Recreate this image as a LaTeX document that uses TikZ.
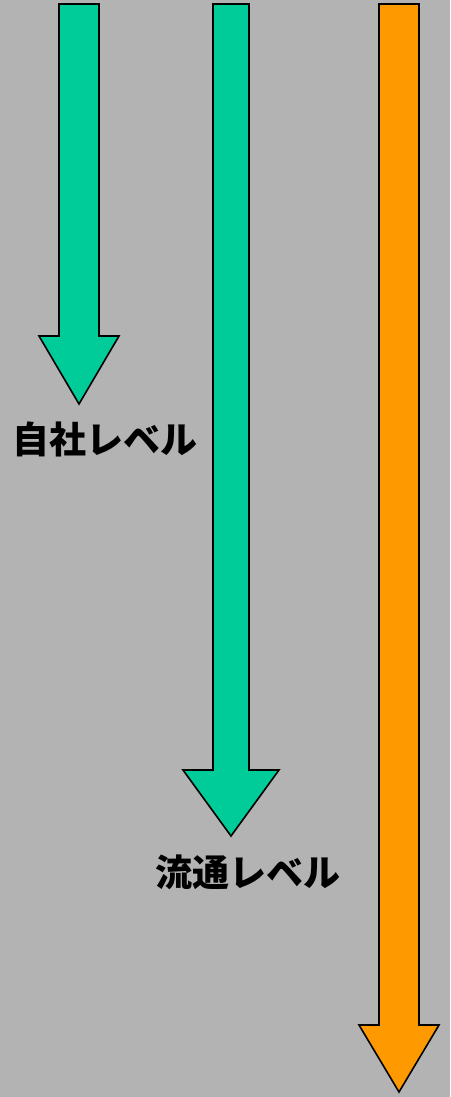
\documentclass[tikz,border=0pt]{standalone}
\usepackage{fontspec}
\newfontfamily\cjk{Noto Sans CJK JP}
\definecolor{bg}{HTML}{B3B3B3}
\definecolor{grn}{HTML}{00CC99}
\definecolor{org}{HTML}{FF9900}
\tikzset{arrowshape/.style={draw=black,line width=1.6pt,line join=miter},
  lbl/.style={font=\cjk\bfseries\fontsize{37}{42}\selectfont,inner sep=0pt}}
\begin{document}
\begin{tikzpicture}[x=1pt,y=-1pt]
\fill[bg] (0,0) rectangle (450,1097);
\useasboundingbox (0,0) rectangle (450,1097);
% arrow 1
\draw[arrowshape,fill=grn] (59,4) -- (99,4) -- (99,336) -- (119,336) -- (79,404) -- (39,336) -- (59,336) -- cycle;
% arrow 2
\draw[arrowshape,fill=grn] (213,4) -- (249,4) -- (249,770) -- (279,770) -- (231,836) -- (183,770) -- (213,770) -- cycle;
% arrow 3
\draw[arrowshape,fill=org] (379,4) -- (419,4) -- (419,1025) -- (439,1025) -- (399,1092) -- (359,1025) -- (379,1025) -- cycle;
\node[lbl] (t1) at (105,439) {自社レベル};
\node[lbl] (t2) at (248,872) {流通レベル};
\end{tikzpicture}
\end{document}
